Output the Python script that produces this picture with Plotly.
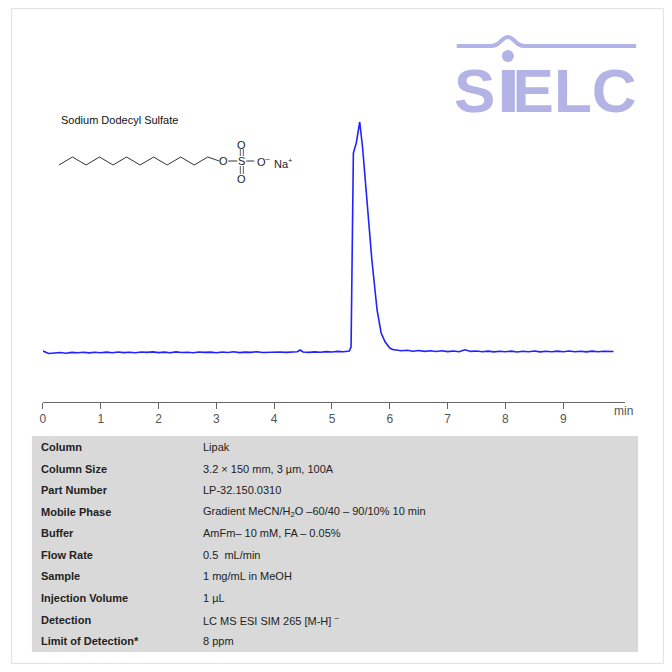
import plotly.graph_objects as go

# chromatogram data (time in min, signal in arbitrary units)
t_left = [0.0,0.1,0.2,0.3,0.4,0.5,0.6,0.7,0.8,0.9,1.0,1.1,1.2,1.3,1.4,1.5,1.6,1.7,1.8,1.9,2.0,2.1,2.2,2.3,2.4,2.5,2.6,2.7,2.8,2.9,3.0,3.1,3.2,3.3,3.4,3.5,3.6,3.7,3.8,3.9,4.0,4.1,4.2,4.3,4.4,4.45,4.5,4.6,4.7,4.8,4.9,5.0,5.1,5.2,5.25]
s_left = [2.0,-0.5,0.0,0.5,-0.3,0.6,0.2,0.8,0.1,0.7,0.3,0.9,0.2,1.0,0.4,0.8,0.3,1.0,0.6,1.1,0.4,0.9,0.2,1.1,0.5,0.8,0.3,1.0,0.6,0.9,0.2,1.0,0.5,1.2,0.4,0.9,0.6,1.3,0.5,0.8,0.4,1.0,0.6,0.9,1.2,3.0,1.0,0.6,1.1,0.8,1.4,1.0,1.6,1.2,1.5]
t_peak = [5.30,5.33,5.37,5.42,5.48,5.53,5.60,5.69,5.78,5.85,5.92,6.00,6.05]
s_peak = [2.0,6.0,200.0,210.0,231.0,205.0,153.0,93.0,43.0,20.0,11.0,5.0,3.5]
t_right = [6.1,6.2,6.3,6.4,6.5,6.6,6.7,6.8,6.9,7.0,7.1,7.2,7.3,7.4,7.5,7.6,7.7,7.8,7.9,8.0,8.1,8.2,8.3,8.4,8.5,8.6,8.7,8.8,8.9,9.0,9.1,9.2,9.3,9.4,9.5,9.6,9.7,9.8,9.87]
s_right = [3.0,2.2,2.8,1.8,2.5,1.6,2.3,1.5,2.2,1.4,2.0,1.3,3.2,1.6,2.0,1.2,1.9,1.1,1.8,1.3,1.9,1.0,1.8,1.2,2.0,1.1,1.7,1.3,1.9,1.2,2.0,1.3,1.8,1.1,1.9,1.2,1.7,1.3,1.5]

t = t_left + t_peak + t_right
s = s_left + s_peak + s_right
ticks = [0,1,2,3,4,5,6,7,8,9]

labels = ["Column","Column Size","Part Number","Mobile Phase","Buffer","Flow Rate",
          "Sample","Injection Volume","Detection","Limit of Detection*"]
values = ["Lipak","3.2 × 150 mm, 3 µm, 100A","LP-32.150.0310",
          "Gradient MeCN/H<sub>2</sub>O –60/40 – 90/10% 10 min","AmFm– 10 mM, FA – 0.05%",
          "0.5  mL/min","1 mg/mL in MeOH","1 µL","LC MS ESI SIM 265 [M-H] <sup>–</sup>","8 ppm"]
row_y = [447,469,490,512,533,555,576,598,620,641]

OFF = 8
S = 656
def px(x):
    x = x - 4 * (638 - x) / 605
    return (x - OFF) / S
def py(y): return 1 - (y - OFF) / S

fig = go.Figure(go.Scatter(x=t, y=s, mode="lines", line=dict(color="#2222ff", width=1.6),
                           hoverinfo="skip"))
shapes = []
ann = []
font = "Liberation Sans, Arial"
shapes.append(dict(type="rect", xref="paper", yref="paper", x0=0.001, y0=0.001, x1=0.999, y1=0.999,
                   line=dict(color="#e0e0e0", width=1)))
shapes.append(dict(type="rect", xref="paper", yref="paper", x0=px(33), x1=px(638),
                   y0=py(652), y1=py(436), fillcolor="#d9d9d9", line=dict(width=0), layer="below"))
for lab, val, yy in zip(labels, values, row_y):
    ann.append(dict(xref="paper", yref="paper", x=px(40), y=py(yy), text="<b>"+lab+"</b>",
                    showarrow=False, xanchor="left", yanchor="middle",
                    font=dict(family=font, size=11, color="#222")))
    ann.append(dict(xref="paper", yref="paper", x=px(202), y=py(yy), text=val,
                    showarrow=False, xanchor="left", yanchor="middle",
                    font=dict(family=font, size=11, color="#222")))
ann.append(dict(xref="paper", yref="paper", x=px(612), y=py(411), text="min", showarrow=False,
                xanchor="left", yanchor="middle", font=dict(family=font, size=12, color="#555")))
ann.append(dict(xref="paper", yref="paper", x=px(60), y=py(120), text="Sodium Dodecyl Sulfate",
                showarrow=False, xanchor="left", yanchor="middle",
                font=dict(family=font, size=11, color="#111")))
pts = []
for i in range(12):
    x = 60 + i * 13.5
    y = 165 if i % 2 == 0 else 157
    pts.append((x, y))
path = "M " + " L ".join(f"{px(x)},{py(y)}" for x, y in pts)
shapes.append(dict(type="path", xref="paper", yref="paper", path=path, line=dict(color="#333", width=1)))
def ln(x0, y0, x1, y1, w=1):
    shapes.append(dict(type="line", xref="paper", yref="paper", x0=px(x0), y0=py(y0), x1=px(x1), y1=py(y1), line=dict(color="#333", width=w)))
ln(208.5, 157, 220, 161)
ln(229, 161, 238, 161)
ln(247, 161, 255, 161)
for dx in (-1.5, 1.5):
    ln(242.5+dx, 149, 242.5+dx, 156, 0.8)
    ln(242.5+dx, 166, 242.5+dx, 174, 0.8)
chem = dict(family=font, size=11, color="#222")
for x, y, txt, xa in [(224.5,161,"O","center"),(242.5,161,"S","center"),(242.5,145,"O","center"),
                      (242.5,179,"O","center"),(256,161,"O<sup>–</sup>","left"),(273,163,"Na<sup>+</sup>","left")]:
    ann.append(dict(xref="paper", yref="paper", x=px(x), y=py(y), text=txt, showarrow=False,
                    xanchor=xa, yanchor="middle", font=chem))
logo = "#b3b3e6"
shapes.append(dict(type="path", xref="paper", yref="paper",
                   path=f"M {px(457)},{py(46)} L {px(492)},{py(46)} C {px(500)},{py(46)} {px(502)},{py(37)} {px(508)},{py(37)} C {px(514)},{py(37)} {px(516)},{py(46)} {px(524)},{py(46)} L {px(636)},{py(46)}",
                   line=dict(color=logo, width=4)))
shapes.append(dict(type="circle", xref="paper", yref="paper", x0=px(502), x1=px(514), y0=py(62), y1=py(50),
                   fillcolor=logo, line=dict(width=0)))
ann.append(dict(xref="paper", yref="paper", x=px(546), y=py(91), text="<b>S<span style='color:rgba(0,0,0,0)'>I</span>ELC</b>",
                showarrow=False, xanchor="center", yanchor="middle",
                font=dict(family=font, size=62, color=logo)))
shapes.append(dict(type="rect", xref="paper", yref="paper", x0=px(502), x1=px(515), y0=py(112), y1=py(70),
                   fillcolor=logo, line=dict(width=0)))

fig.update_layout(
    width=S, height=S, margin=dict(l=0, r=0, t=0, b=0),
    paper_bgcolor="white", plot_bgcolor="white", showlegend=False,
    shapes=shapes, annotations=ann,
    xaxis=dict(domain=[px(44), px(625)], range=[0, 10.07], tickvals=ticks,
               showline=True, linecolor="#666", linewidth=1, ticks="outside", ticklen=6,
               tickcolor="#666", showgrid=False, zeroline=False,
               tickfont=dict(family=font, size=12, color="#555"), anchor="y"),
    yaxis=dict(domain=[py(402), py(100)], range=[-49, 253], visible=False),
)
fig.write_html("out.html")
